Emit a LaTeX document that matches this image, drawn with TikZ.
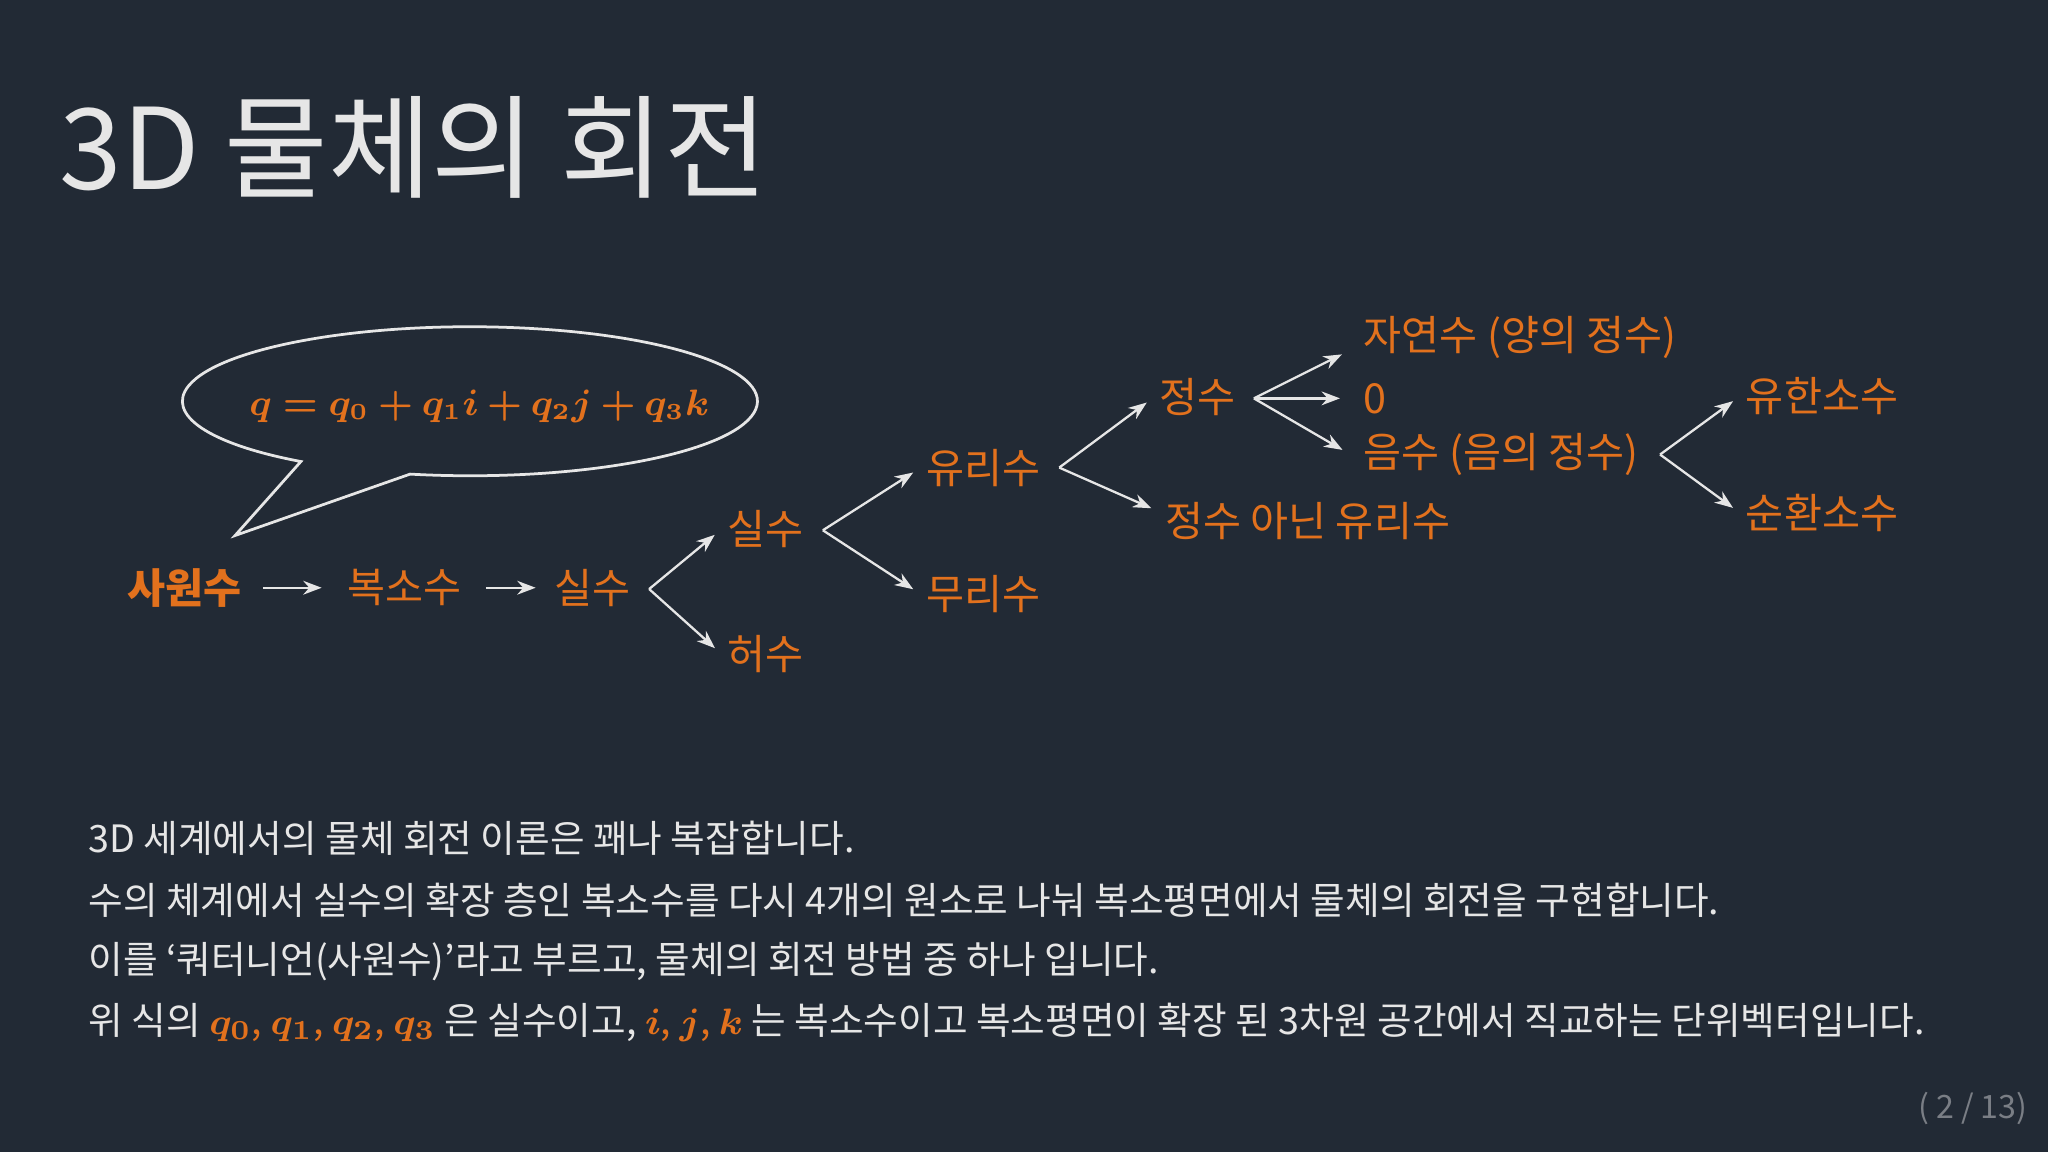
\documentclass[tikz,border=0pt]{standalone}
\usepackage{fontspec}
\usepackage{bm}
\setmainfont{Noto Sans CJK KR}
\usetikzlibrary{arrows.meta}
\definecolor{bgc}{HTML}{222A35}
\definecolor{org}{HTML}{E2711D}
\definecolor{txt}{HTML}{E6E6E6}
\tikzset{
 lab/.style={text=org,font=\fontsize{9}{11}\selectfont,inner sep=1pt},
 arr/.style={draw=txt,line width=0.5pt,-{Stealth[length=4pt,width=3pt]}},
 body/.style={text=txt,font=\fontsize{8.2}{10}\selectfont,anchor=west,inner sep=0pt},
}
\begin{document}
\begin{tikzpicture}[x=0.01cm,y=-0.01cm]
\fill[bgc] (0,0) rectangle (1568,882);
\useasboundingbox (0,0) rectangle (1568,882);
\node[text=txt,anchor=west,font=\fontsize{24.5}{28}\selectfont,inner sep=0pt] (title) at (45,113) {3D 물체의 회전};
% bubble
\draw[txt,line width=0.6pt] (314,363) arc[start angle=258,end angle=594,x radius=2.2cm,y radius=0.57cm] -- (180,410) -- cycle;
\node[text=org,font=\fontsize{7.6}{9}\selectfont] (eq) at (367,311) {$\bm{q = q_0 + q_1 i + q_2 j + q_3 k}$};
% nodes
\node[lab,font=\bfseries\fontsize{9}{11}\selectfont] (sa) at (141,450) {사원수};
\node[lab] (bok) at (310,450) {복소수};
\node[lab] (s1) at (454,450) {실수};
\node[lab] (s2) at (586,405) {실수};
\node[lab] (heo) at (586,501) {허수};
\node[lab] (yu) at (753,358) {유리수};
\node[lab] (mu) at (753,455) {무리수};
\node[lab] (jung) at (917,304) {정수};
\node[lab,anchor=west] (jn) at (888,399) {정수 아닌 유리수};
\node[lab,anchor=west] (ja) at (1040,258) {자연수 (양의 정수)};
\node[lab,anchor=west] (zero) at (1040,305) {0};
\node[lab,anchor=west] (eum) at (1040,348) {음수 (음의 정수)};
\node[lab] (yh) at (1395,303) {유한소수};
\node[lab] (sh) at (1395,393) {순환소수};
\draw[arr,shorten <=3.5pt,shorten >=4.5pt] (sa.east) -- (bok.west);
\draw[arr,shorten <=4pt,shorten >=3pt] (bok.east) -- (s1.west);
\coordinate (b1) at (497,451);
\draw[arr,shorten >=2pt] (b1) -- (s2.west); \draw[arr,shorten >=2pt] (b1) -- (heo.west);
\coordinate (b2) at (630,406);
\draw[arr,shorten >=2pt] (b2) -- (yu.west); \draw[arr,shorten >=2pt] (b2) -- (mu.west);
\coordinate (b3) at (811,358);
\draw[arr,shorten >=2pt] (b3) -- (jung.west); \draw[arr,shorten >=2pt] (b3) -- ([yshift=2]jn.west);
\coordinate (b4) at (960,305);
\draw[arr,shorten >=4pt] (b4) -- ([yshift=-2pt]ja.west); \draw[arr,shorten >=4pt] (b4) -- (zero.west); \draw[arr,shorten >=4pt] (b4) -- ([yshift=-1pt]eum.west);
\coordinate (b5) at (1271,348);
\draw[arr,shorten >=2pt] (b5) -- (yh.west); \draw[arr,shorten >=2pt] (b5) -- (sh.west);
% body
\node[body] (l1) at (67,642) {3D 세계에서의 물체 회전 이론은 꽤나 복잡합니다.};
\node[body] (l2) at (67,689) {수의 체계에서 실수의 확장 층인 복소수를 다시 4개의 원소로 나눠 복소평면에서 물체의 회전을 구현합니다.};
\node[body] (l3) at (67,736) {이를 ‘쿼터니언(사원수)’라고 부르고, 물체의 회전 방법 중 하나 입니다.};
\node[body] (l4) at (67,783) {위 식의 {\color{org}$\bm{q_0}$, $\bm{q_1}$, $\bm{q_2}$, $\bm{q_3}$} 은 실수이고, {\color{org}$\bm{i}$, $\bm{j}$, $\bm{k}$} 는 복소수이고 복소평면이 확장 된 3차원 공간에서 직교하는 단위벡터입니다.};
\node[text=txt!45!bgc,anchor=east,font=\fontsize{7}{8}\selectfont,inner sep=0pt] (pg) at (1553,849) {( 2 / 13)};
\end{tikzpicture}
\end{document}
